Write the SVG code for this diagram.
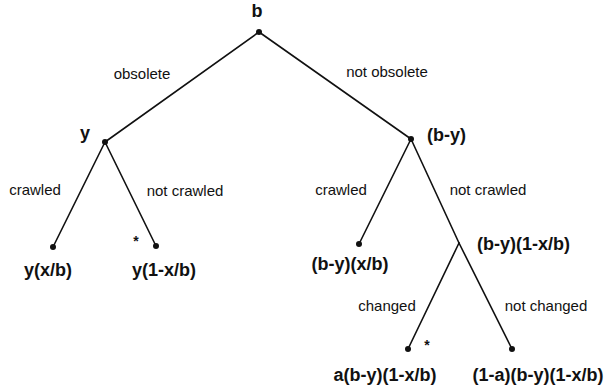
<svg xmlns="http://www.w3.org/2000/svg" width="614" height="388" viewBox="0 0 614 388">
<style>
.e{stroke:#111;stroke-width:1.6;fill:none;stroke-linecap:round}
.d{fill:#111}
.n{font-family:"Liberation Sans",Arial,sans-serif;font-size:15px;fill:#111;text-anchor:middle}
.b{font-family:"Liberation Sans",Arial,sans-serif;font-size:18px;font-weight:bold;fill:#111;text-anchor:middle}
.s{font-family:"Liberation Sans",Arial,sans-serif;font-size:14px;font-weight:bold;fill:#111;text-anchor:middle}
</style>
<rect width="614" height="388" fill="#fff"/>
<g id="connectors">
<line class="e" x1="259" y1="32" x2="105" y2="142"/>
<line class="e" x1="259" y1="32" x2="411" y2="139"/>
<line class="e" x1="105" y1="142" x2="53" y2="247"/>
<line class="e" x1="105" y1="142" x2="156" y2="246"/>
<line class="e" x1="411" y1="139" x2="359" y2="244"/>
<line class="e" x1="411" y1="139" x2="459" y2="243"/>
<line class="e" x1="459" y1="243" x2="408" y2="349"/>
<line class="e" x1="459" y1="243" x2="512" y2="349"/>
<text class="n" x="142" y="79">obsolete</text>
<text class="n" x="387" y="77">not obsolete</text>
<text class="n" x="35" y="195">crawled</text>
<text class="n" x="185" y="196">not crawled</text>
<text class="n" x="341" y="195">crawled</text>
<text class="n" x="488" y="195">not crawled</text>
<text class="n" x="387" y="311">changed</text>
<text class="n" x="546" y="311">not changed</text>
</g>
<g id="root">
<circle class="d" cx="259" cy="32" r="3"/>
<text class="b" x="257" y="17">b</text>
</g>
<g id="y">
<circle class="d" cx="105" cy="142" r="3"/>
<text class="b" x="85" y="139">y</text>
</g>
<g id="b-y">
<circle class="d" cx="411" cy="139" r="3"/>
<text class="b" x="427" y="141" style="text-anchor:start">(b-y)</text>
</g>
<g id="y-x-b">
<circle class="d" cx="53" cy="247" r="3"/>
<text class="b" x="48" y="276">y(x/b)</text>
</g>
<g id="y-1-x-b">
<circle class="d" cx="156" cy="246" r="3"/>
<text class="s" x="136" y="246">*</text>
<text class="b" x="164" y="276">y(1-x/b)</text>
</g>
<g id="b-y-x-b">
<circle class="d" cx="359" cy="244" r="3"/>
<text class="b" x="350" y="270">(b-y)(x/b)</text>
</g>
<g id="b-y-1-x-b">
<text class="b" x="477" y="250" style="text-anchor:start">(b-y)(1-x/b)</text>
</g>
<g id="changed-leaf">
<circle class="d" cx="408" cy="349" r="3"/>
<text class="s" x="427" y="350">*</text>
<text class="b" x="385" y="381">a(b-y)(1-x/b)</text>
</g>
<g id="not-changed-leaf">
<circle class="d" cx="512" cy="349" r="3"/>
<text class="b" x="538" y="381">(1-a)(b-y)(1-x/b)</text>
</g>
</svg>
